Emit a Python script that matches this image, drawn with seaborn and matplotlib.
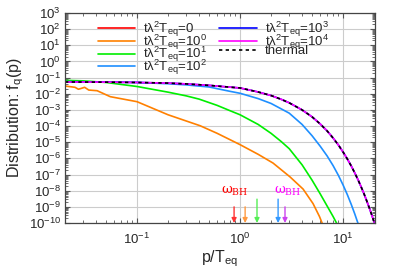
import numpy as np
import pandas as pd
import matplotlib
matplotlib.use("Agg")
import matplotlib.pyplot as plt
import seaborn as sns
from matplotlib.ticker import LogLocator, NullFormatter

# ---------------- data ----------------
# t lambda^2 T_eq = 0  -> distribution is zero (nothing visible on log axis)
p_red = [0.02, 20.0]
f_red = [0.0, 0.0]

# 10^0 (orange)
p_orange = [0.020, 0.025, 0.027, 0.029, 0.031, 0.034, 0.041, 0.055, 0.10, 0.20,
            0.41, 0.60, 1.0, 1.5, 2.09, 3.06, 4.09, 5.11, 5.9, 6.3]
logf_orange = [-1.52, -1.60, -1.72, -1.66, -1.60, -1.77, -1.81, -2.18, -2.49, -3.30,
               -3.98, -4.45, -5.15, -5.75, -6.29, -7.15, -7.90, -8.80, -9.60, -10.05]

# 10^1 (green)
p_green = [0.02, 0.03, 0.05, 0.1, 0.2, 0.3, 0.4, 0.6, 0.8, 1.0, 1.5, 2.0, 2.5, 3.0,
           4.0, 5.0, 6.0, 7.0, 8.0, 8.8]
logf_green = [-1.17, -1.20, -1.30, -1.55, -1.90, -2.13, -2.33, -2.72, -3.05, -3.30,
              -3.90, -4.45, -4.95, -5.40, -6.40, -7.35, -8.20, -8.95, -9.60, -10.1]

# 10^2 (light blue)
p_lblue = [0.02, 0.05, 0.1, 0.2, 0.3, 0.5, 0.8, 1.0, 1.5, 2.0, 3.0, 4.0, 5.0, 6.0,
           7.0, 8.0, 9.0, 10.0, 11.0, 12.0, 13.0, 14.0]
logf_lblue = [-1.25, -1.27, -1.30, -1.38, -1.45, -1.58, -1.85, -1.97, -2.30, -2.60,
              -3.20, -3.90, -4.60, -5.25, -5.85, -6.45, -7.05, -7.65, -8.25, -8.85,
              -9.45, -10.05]

# thermal (black dashed); 10^3 and 10^4 lie on top of it
p_th = [0.02, 0.05, 0.1, 0.2, 0.3, 0.5, 0.7, 1.0, 1.5, 2.0, 2.5, 3.0, 4.0, 5.0, 6.0,
        7.0, 8.0, 9.0, 10.0, 11.0, 12.0, 13.0, 14.0, 15.0, 16.0, 17.0, 18.0, 19.0, 20.0]
logf_th = [-1.27, -1.28, -1.30, -1.34, -1.39, -1.48, -1.56, -1.64, -1.89, -2.11,
           -2.34, -2.56, -3.00, -3.43, -3.87, -4.30, -4.74, -5.17, -5.61, -6.04,
           -6.47, -6.91, -7.34, -7.78, -8.21, -8.65, -9.08, -9.51, -9.95]
logf_1e3 = list(logf_th)
logf_1e4 = list(logf_th)

# omega_BH arrows (p/T_eq positions) and their start heights
arrow_p = [0.875, 1.12, 1.46, 2.34, 2.73]
arrow_top = [1e-9, 1e-9, 3e-9, 3e-9, 1e-9]
arrow_colors = ["#ff3333", "#ff9a40", "#55ee55", "#3399ff", "#cc44ee"]

# ---------------- figure ----------------
sns.set_style("ticks")
plt.rcParams["font.family"] = ["Liberation Sans", "DejaVu Sans"]
plt.rcParams["mathtext.fontset"] = "dejavusans"
plt.rcParams["mathtext.default"] = "regular"

fig = plt.figure(figsize=(3.99, 2.79), dpi=100)
ax = fig.add_axes([65 / 399, 1 - 223 / 279, 310 / 399, 210 / 279])

def lab(e):
    return r"t$\lambda^2$T$_{eq}$=" + e

curves = [
    (p_red, [np.nan if v <= 0 else v for v in f_red], "#ff0000", lab("0")),
    (p_orange, [10 ** v for v in logf_orange], "#ff8000", lab("10$^0$")),
    (p_green, [10 ** v for v in logf_green], "#00ee00", lab("10$^1$")),
    (p_lblue, [10 ** v for v in logf_lblue], "#1e8fff", lab("10$^2$")),
    (p_th, [10 ** v for v in logf_1e3], "#0000ff", lab("10$^3$")),
    (p_th, [10 ** v for v in logf_1e4], "#ff00ff", lab("10$^4$")),
]
for px, fy, col, lb in curves:
    df = pd.DataFrame({"p": px, "f": fy})
    sns.lineplot(data=df, x="p", y="f", color=col, lw=1.2, ax=ax, label=lb,
                 estimator=None, sort=True)
df_th = pd.DataFrame({"p": p_th, "f": [10 ** v for v in logf_th]})
sns.lineplot(data=df_th, x="p", y="f", color="black", lw=1.2, ax=ax, label="thermal",
             estimator=None, linestyle=(0, (2, 2)))

ax.set_xscale("log")
ax.set_yscale("log")
ax.set_xlim(0.02, 20.4)
ax.set_ylim(1e-10, 1e3)

# arrows
for xp, yt, c in zip(arrow_p, arrow_top, arrow_colors):
    ax.annotate("", xy=(xp, 1e-10), xytext=(xp, yt),
                arrowprops=dict(arrowstyle="-|>", color=c, lw=1.0,
                                mutation_scale=7, shrinkA=0, shrinkB=0))
ax.text(0.88, 3.3e-9, r"$\omega_{BH}$", color="#ff0000", fontsize=9.5,
        ha="center", va="bottom", family="DejaVu Serif")
ax.text(2.9, 3.3e-9, r"$\omega_{BH}$", color="#ff00ff", fontsize=9.5,
        ha="center", va="bottom", family="DejaVu Serif")

# grid & ticks
ax.xaxis.set_major_locator(LogLocator(base=10, numticks=20))
ax.yaxis.set_major_locator(LogLocator(base=10, numticks=30))
ax.xaxis.set_minor_locator(LogLocator(base=10, subs=np.arange(2, 10), numticks=20))
ax.yaxis.set_minor_locator(LogLocator(base=10, subs=np.arange(2, 10), numticks=30))
ax.xaxis.set_minor_formatter(NullFormatter())
ax.yaxis.set_minor_formatter(NullFormatter())
ax.grid(True, which="major", color="#cccccc", lw=0.8)
ax.set_axisbelow(True)
ax.tick_params(which="both", direction="in", top=True, right=True, labelsize=9.5,
               color="#555555")
ax.tick_params(which="major", length=3.5)
ax.tick_params(which="minor", length=2)
ax.tick_params(axis="x", pad=6)
ax.tick_params(axis="y", pad=3)
for s in ax.spines.values():
    s.set_color("#444444")
    s.set_linewidth(0.9)

ax.set_xlabel(r"p/T$_{eq}$", fontsize=11.5, labelpad=1)
ax.set_ylabel(r"Distribution: f$_q$(p)", fontsize=11.5, labelpad=2)

leg = ax.legend(loc="upper left", bbox_to_anchor=(0.08, 1.005), ncol=2, frameon=False,
                fontsize=9.5, handlelength=2.85, handletextpad=0.6, labelspacing=-0.5,
                columnspacing=0.9, borderaxespad=0.2)

fig.savefig("out.png", dpi=100)
